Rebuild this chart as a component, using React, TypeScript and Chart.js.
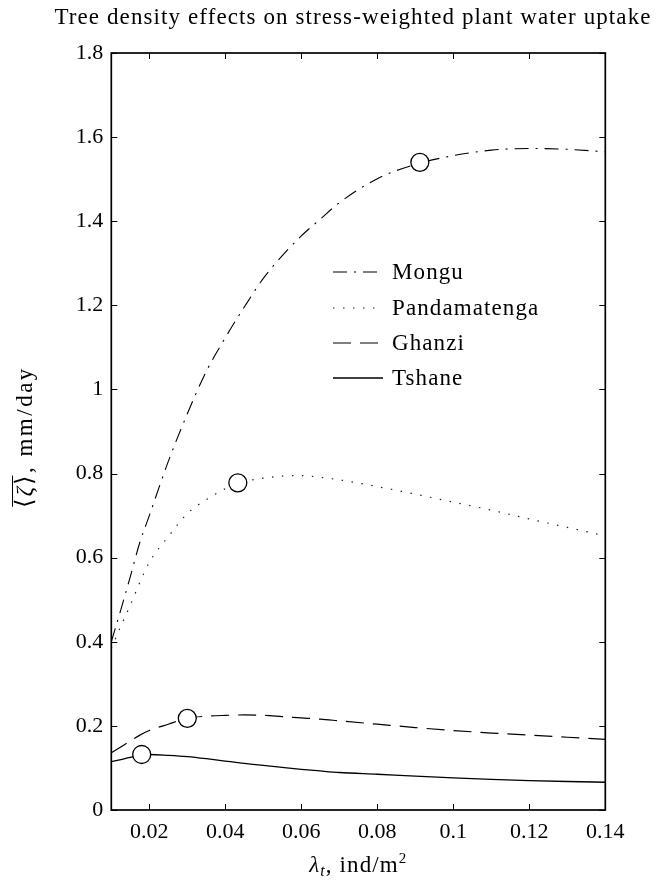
import React, { useEffect, useRef } from 'react';
import { Chart, registerables } from 'chart.js';

Chart.register(...registerables);

// ---- Data ----
const lambdaT = [0.01, 0.0125, 0.015, 0.0175, 0.02, 0.025, 0.03, 0.035, 0.04, 0.045, 0.05, 0.055, 0.06, 0.065, 0.07, 0.08, 0.09, 0.1, 0.11, 0.12, 0.13, 0.14];
const mongu = [0.40, 0.476, 0.555, 0.636, 0.70, 0.829, 0.942, 1.043, 1.123, 1.196, 1.264, 1.318, 1.365, 1.405, 1.444, 1.501, 1.535, 1.556, 1.569, 1.573, 1.571, 1.565];
const pandamatenga = [0.384, 0.437, 0.487, 0.541, 0.589, 0.650, 0.705, 0.738, 0.764, 0.781, 0.789, 0.794, 0.795, 0.791, 0.785, 0.769, 0.751, 0.732, 0.713, 0.692, 0.672, 0.652];
const ghanzi = [0.136, 0.150, 0.164, 0.178, 0.189, 0.204, 0.218, 0.223, 0.225, 0.226, 0.225, 0.222, 0.219, 0.216, 0.212, 0.204, 0.196, 0.189, 0.183, 0.178, 0.173, 0.168];
const tshane = [0.115, 0.120, 0.125, 0.131, 0.132, 0.130, 0.127, 0.122, 0.116, 0.111, 0.106, 0.1013, 0.0968, 0.0928, 0.0892, 0.0850, 0.0805, 0.0765, 0.0728, 0.0700, 0.0678, 0.0660];

const seriesNames = ['Mongu', 'Pandamatenga', 'Ghanzi', 'Tshane'];
const markerX = [0.0912, 0.0433, 0.0300, 0.0180];
const markerY = [1.540, 0.778, 0.218, 0.132];

const xTicks = [0.02, 0.04, 0.06, 0.08, 0.1, 0.12, 0.14];
const yTicks = [0, 0.2, 0.4, 0.6, 0.8, 1, 1.2, 1.4, 1.6, 1.8];

const TITLE = 'Tree density effects on stress-weighted plant water uptake';

// ---- Styles ----
const FONT = "'Liberation Serif', 'Times New Roman', serif";
const dashes: number[][] = [[14, 7, 2, 7], [1.5, 8.5], [18, 9], []];
const widths = [1.1, 1.2, 1.2, 1.3];
const colors = ['#000', '#222', '#000', '#000'];
const TICK = 6;

type Seg = { t: string; italic?: boolean; size?: number; dy?: number };

function segFont(s: Seg, base: number) {
  return `${s.italic ? 'italic ' : ''}${s.size ?? base}px ${FONT}`;
}

function drawSegs(ctx: any, segs: Seg[], cx: number, base: number, size: number, spacing: number, overlineCount = 0) {
  ctx.letterSpacing = `${spacing}px`;
  let total = 0;
  for (const s of segs) {
    ctx.font = segFont(s, size);
    total += ctx.measureText(s.t).width;
  }
  let x = cx - total / 2;
  const start = x;
  let olEnd = x;
  ctx.textAlign = 'left';
  ctx.textBaseline = 'alphabetic';
  segs.forEach((s, i) => {
    ctx.font = segFont(s, size);
    ctx.fillText(s.t, x, base + (s.dy ?? 0));
    x += ctx.measureText(s.t).width;
    if (i === overlineCount - 1) olEnd = x;
  });
  if (overlineCount > 0) {
    ctx.lineWidth = 1;
    ctx.setLineDash([]);
    ctx.beginPath();
    ctx.moveTo(start + 1, base - 19.5);
    ctx.lineTo(olEnd - spacing, base - 19.5);
    ctx.stroke();
  }
  ctx.letterSpacing = '0px';
}

const decorPlugin = {
  id: 'decor',
  afterDraw(chart: any) {
    const { ctx, chartArea: a, scales } = chart;
    const xs = scales.x;
    const ys = scales.y;
    ctx.save();
    ctx.strokeStyle = '#000';
    ctx.fillStyle = '#000';
    ctx.setLineDash([]);
    // inward ticks on all four sides
    ctx.lineWidth = 1;
    ctx.beginPath();
    for (const v of xTicks) {
      const px = Math.round(xs.getPixelForValue(v)) + 0.5;
      ctx.moveTo(px, a.bottom);
      ctx.lineTo(px, a.bottom - TICK);
      ctx.moveTo(px, a.top);
      ctx.lineTo(px, a.top + TICK);
    }
    for (const v of yTicks) {
      const py = Math.round(ys.getPixelForValue(v)) + 0.5;
      ctx.moveTo(a.left, py);
      ctx.lineTo(a.left + TICK, py);
      ctx.moveTo(a.right, py);
      ctx.lineTo(a.right - TICK, py);
    }
    ctx.stroke();
    // frame
    ctx.lineWidth = 1.7;
    ctx.strokeRect(a.left, a.top, a.right - a.left, a.bottom - a.top);

    // title
    ctx.letterSpacing = '1.1px';
    ctx.font = `23px ${FONT}`;
    ctx.textAlign = 'center';
    ctx.textBaseline = 'alphabetic';
    ctx.fillText(TITLE, 353, 24);

    // legend
    const lx0 = 333, lx1 = 383, tx = 392;
    const ly = [272, 308, 343, 378];
    seriesNames.forEach((name, i) => {
      ctx.save();
      ctx.strokeStyle = colors[i];
      ctx.lineWidth = widths[i];
      ctx.setLineDash(dashes[i]);
      ctx.beginPath();
      ctx.moveTo(lx0, ly[i]);
      ctx.lineTo(lx1, ly[i]);
      ctx.stroke();
      ctx.restore();
      ctx.letterSpacing = '1.1px';
      ctx.font = `23px ${FONT}`;
      ctx.textAlign = 'left';
      ctx.textBaseline = 'middle';
      ctx.fillText(name, tx, ly[i] + 1);
    });
    ctx.letterSpacing = '0px';

    // x axis title
    const xSegs: Seg[] = [
      { t: 'λ', italic: true },
      { t: 't', italic: true, size: 16, dy: 4 },
      { t: ', ind/m' },
      { t: '2', size: 15, dy: -9 },
    ];
    drawSegs(ctx, xSegs, (a.left + a.right) / 2, 872, 23, 1.1);

    // y axis title (rotated)
    ctx.save();
    ctx.translate(32, 437);
    ctx.rotate(-Math.PI / 2);
    const ySegs: Seg[] = [
      { t: '⟨', size: 24 },
      { t: 'ζ', italic: true },
      { t: '⟩', size: 24 },
      { t: ', mm/day' },
    ];
    drawSegs(ctx, ySegs, 0, 0, 23, 2.5, 3);
    ctx.restore();

    ctx.restore();
  },
};

export default function App() {
  const ref = useRef<HTMLCanvasElement | null>(null);

  useEffect(() => {
    if (!ref.current) return;
    const series = [mongu, pandamatenga, ghanzi, tshane];
    const lineSets = series.map((vals, i) => ({
      type: 'scatter' as const,
      label: seriesNames[i],
      data: lambdaT.map((x, j) => ({ x, y: vals[j] })),
      showLine: true,
      borderColor: colors[i],
      backgroundColor: colors[i],
      borderWidth: widths[i],
      borderDash: dashes[i],
      pointRadius: 0,
      pointHoverRadius: 0,
      tension: 0.3,
      cubicInterpolationMode: 'monotone' as const,
      order: 1,
    }));
    const markerSet = {
      type: 'scatter' as const,
      label: 'markers',
      data: markerX.map((x, i) => ({ x, y: markerY[i] })),
      showLine: false,
      pointRadius: 9,
      pointHoverRadius: 9,
      pointBackgroundColor: '#fff',
      pointBorderColor: '#000',
      pointBorderWidth: 1.3,
      order: 0,
    };

    const chart = new Chart(ref.current, {
      type: 'scatter',
      data: { datasets: [markerSet, ...lineSets] as any },
      options: {
        animation: false,
        responsive: false,
        maintainAspectRatio: false,
        events: [],
        layout: { padding: { top: 53, right: 56.7, left: 0, bottom: 0 } },
        plugins: {
          legend: { display: false },
          title: { display: false },
          tooltip: { enabled: false },
        },
        scales: {
          x: {
            type: 'linear',
            min: 0.01,
            max: 0.14,
            grid: { display: false, drawTicks: false },
            border: { display: false },
            afterBuildTicks: (scale: any) => {
              scale.ticks = xTicks.map((v) => ({ value: v }));
            },
            afterFit: (scale: any) => {
              scale.height = 72;
            },
            ticks: {
              padding: 9,
              color: '#000',
              font: { family: FONT, size: 22 },
              maxRotation: 0,
              autoSkip: false,
              callback: (v: any) => String(v),
            },
          },
          y: {
            type: 'linear',
            min: 0,
            max: 1.8,
            grid: { display: false, drawTicks: false },
            border: { display: false },
            afterBuildTicks: (scale: any) => {
              scale.ticks = yTicks.map((v) => ({ value: v }));
            },
            afterFit: (scale: any) => {
              scale.width = 111.3;
            },
            ticks: {
              padding: 8,
              color: '#000',
              font: { family: FONT, size: 22 },
              autoSkip: false,
              callback: (v: any) => String(v),
            },
          },
        },
      },
      plugins: [decorPlugin],
    });
    return () => chart.destroy();
  }, []);

  return (
    <div style={{ position: 'absolute', left: 0, top: 0, width: 662, height: 882, background: '#fff' }}>
      <canvas ref={ref} width={662} height={882} style={{ display: 'block', width: 662, height: 882 }} />
    </div>
  );
}
